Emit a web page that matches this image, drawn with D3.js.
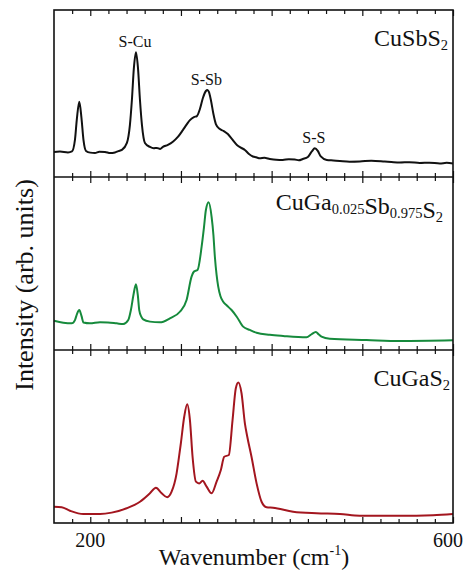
<!DOCTYPE html>
<html>
<head>
<meta charset="utf-8">
<script src="https://cdn.jsdelivr.net/npm/d3@7"></script>
<style>
  html, body { margin: 0; padding: 0; background: #fff; }
  svg { display: block; }
</style>
</head>
<body>
<svg id="chart" width="464" height="571"></svg>
<script>
// Raman spectra, one panel per composition (wavenumber in cm^-1, intensity in arb. units 0-100 per panel)
const cuSbS2Shift = [160,166.6,175.4,179.8,183.1,185.3,187.9,190.3,192.5,195.3,200,205.2,210,216.2,222,227.2,231,234.9,240.4,243.7,245.9,248.1,250.4,252.6,254.8,257.0,260.3,265.8,270,273.5,277,280.1,285.6,291.1,296.6,302.1,306.6,309.9,314.3,317.6,320.9,324.2,327.5,329.2,330.8,333.0,335.8,338.5,342.9,347.3,351.7,356.1,361.7,366,370.5,375,379.3,383,387.0,392,398.0,405,412.3,419,425.6,430,434.4,439.9,444.3,447.6,450.9,454.2,460.8,468,475.2,486,497.2,510,524.7,532,541.3,552,563.3,574,585.4,593,600];
const cuSbS2Intensity = [15.0,15.2,14.7,15.3,22.2,35.3,45.1,35.3,22.2,15.6,14.6,14.4,15.1,15.0,14.3,14.7,15.5,16.2,20.4,31.1,46.1,65.3,74.7,65.3,46.1,31.1,20.4,18.0,17.2,17.4,16.8,18.0,19.2,21.1,24.0,28.1,31.7,34.1,35.9,36.5,40.7,47.3,51.5,52.1,50.9,46.1,37.7,31.7,28.7,27.5,25.7,22.8,19.2,17.6,16.2,13.8,12.3,11.8,11.2,11.5,10.8,10.3,10.2,10.7,10.5,10.0,10.8,12.0,15.3,17.2,15.6,12.3,10.2,9.9,9.6,9.2,9.3,9.8,9.3,9.0,8.7,8.9,8.4,8.6,8.1,8.5,8.1];

const cuGaSbS2Shift = [160,170.2,179.5,183.1,185.3,187.9,190.3,192.5,199.7,210.7,219.5,229.1,236.4,241.9,244.8,247.6,250.4,252.4,254.0,256.4,258.4,265.8,276.8,287.8,298.8,306.2,311.7,314.3,318.3,322.8,325.3,327.5,330.5,333.8,335.8,337.4,339.3,341.1,343.5,346.6,350.6,355.8,361.7,368.6,376.0,383.4,398.0,412.7,438.5,444.0,448.7,452.0,455.0,464.1,504.6,541.3,600];
const cuGaSbS2Intensity = [16.9,15.8,15.4,17.3,20.8,23.1,19.7,15.9,15.4,16.0,15.9,15.4,15.0,17.3,23.1,31.8,38.0,31.8,23.1,19.1,17.7,16.4,16.0,18.3,22.1,28.9,42.4,45.3,46.2,59.7,70.5,80.9,85.4,77.0,66.5,53.9,43.4,36.6,31.2,27.9,25.7,23.1,19.1,13.5,11.6,10.0,8.8,8.1,7.3,9.1,10.4,9.0,7.7,6.5,5.8,5.2,5.6];

const cuGaS2Shift = [160,168.5,177.6,192.3,210.7,223.6,240.1,254.8,265.8,272.4,278.7,284.8,289.7,295.2,297.7,299.9,303.6,306.9,309.9,312.8,316.5,320.1,323.9,328.3,333.8,339.3,344.0,347.7,352.8,356.9,360.5,363.3,366.8,370.5,373.2,377.8,383.4,388.9,394.4,401.6,423.7,449.5,475.2,497.2,541.3,578.0,600];
const cuGaS2Intensity = [9.4,9.1,7.1,5.2,5.2,6.0,8.5,12.3,17.2,20.4,17.2,14.9,18.1,28.7,37.6,46.1,61.4,68.6,59.5,38.3,23.9,22.9,24.4,21.0,17.2,23.9,30.6,38.3,39.3,59.5,77.9,81.2,75.0,57.6,49.7,38.3,22.9,12.3,9.1,8.8,6.5,5.6,5.2,4.2,4.2,4.5,5.2];

// Bond assignments marked on the CuSbS2 spectrum
const peakLabels = ["S-Cu", "S-Sb", "S-S"];
const peakShifts = [250.4, 329.2, 447.6];
const peakIntensities = [74.7, 52.1, 17.2];

// Axis ticks
const majorTicks = [200, 300, 400, 500, 600];
const minorTicks = [180, 220, 240, 260, 280, 320, 340, 360, 380, 420, 440, 460, 480, 520, 540, 560, 580];
const labeledTicks = [200, 600];

// Pick the first installed Times-like face
function pickSerif() {
  const candidates = ["Liberation Serif", "Times New Roman", "Tinos", "DejaVu Serif", "Noto Serif", "FreeSerif"];
  const ctx = document.createElement("canvas").getContext("2d");
  const sample = "Wavenumber Intensity 0123456789";
  const widthWith = f => { ctx.font = f; return ctx.measureText(sample).width; };
  for (const c of candidates) {
    const a = widthWith(`40px "${c}", monospace`), b = widthWith("40px monospace");
    const a2 = widthWith(`40px "${c}", sans-serif`), b2 = widthWith("40px sans-serif");
    if (a !== b || a2 !== b2) return `"${c}", serif`;
  }
  return "serif";
}
const serifFont = pickSerif();

const panels = [
  { shift: cuSbS2Shift, intensity: cuSbS2Intensity, color: "#111111",
    name: [["CuSbS", false], ["2", true]] },
  { shift: cuGaSbS2Shift, intensity: cuGaSbS2Intensity, color: "#168a3c",
    name: [["CuGa", false], ["0.025", true], ["Sb", false], ["0.975", true], ["S", false], ["2", true]] },
  { shift: cuGaS2Shift, intensity: cuGaS2Intensity, color: "#a3161f",
    name: [["CuGaS", false], ["2", true]] }
];

const width = 464, height = 571;
const plotLeft = 54, plotRight = 453;
const panelEdges = [10, 177, 350, 523];

const svg = d3.select("#chart").attr("font-family", serifFont);
const x = d3.scaleLinear().domain([160, 600]).range([plotLeft, plotRight]);

const nameX = [448, 443, 450];
const nameY = [46, 210, 386];

panels.forEach((p, i) => {
  const top = panelEdges[i], bottom = panelEdges[i + 1];
  const y = d3.scaleLinear().domain([0, 100]).range([bottom, top]);
  const g = svg.append("g");

  const pts = p.shift.map((s, k) => [s, p.intensity[k]]);
  const line = d3.line().x(d => x(d[0])).y(d => y(d[1])).curve(d3.curveMonotoneX);
  g.append("path").datum(pts)
    .attr("d", line)
    .attr("fill", "none")
    .attr("stroke", p.color)
    .attr("stroke-width", 2)
    .attr("stroke-linejoin", "round");

  // inward ticks on top and bottom edges
  const mk = (axisFn, pos, ticks, size) => {
    const a = g.append("g").attr("transform", `translate(0,${pos})`)
      .call(axisFn(x).tickValues(ticks).tickSize(size).tickFormat(""));
    a.select(".domain").remove();
    a.selectAll("line").attr("stroke", "#111").attr("stroke-width", 1.2);
  };
  mk(d3.axisBottom, bottom, majorTicks, -6);
  mk(d3.axisBottom, bottom, minorTicks, -4);
  mk(d3.axisTop, top, majorTicks, -6);
  mk(d3.axisTop, top, minorTicks, -4);

  // sample name, right aligned
  const t = g.append("text")
    .attr("x", nameX[i]).attr("y", nameY[i])
    .attr("text-anchor", "end")
    .attr("font-family", serifFont)
    .attr("fill", "#111")
    .attr("font-size", 24);
  p.name.forEach(([str, sub]) => {
    t.append("tspan")
      .attr("font-size", sub ? 14.5 : 24)
      .attr("dy", sub ? 4 : null)
      .text(str);
    if (sub) {
      // return to the main baseline after a subscript
      t.append("tspan").attr("dy", -4).attr("font-size", 24).text("");
    }
  });

  if (i === 0) {
    g.selectAll("text.peak").data(peakLabels).enter().append("text")
      .attr("class", "peak")
      .attr("x", (d, k) => x(peakShifts[k]) - 1)
      .attr("y", (d, k) => y(peakIntensities[k]) - 5)
      .attr("text-anchor", "middle")
      .attr("font-family", serifFont)
      .attr("fill", "#111")
      .attr("font-size", 16)
      .text(d => d);
  }
});

// panel frames
svg.append("rect")
  .attr("x", plotLeft).attr("y", panelEdges[0])
  .attr("width", plotRight - plotLeft).attr("height", panelEdges[3] - panelEdges[0])
  .attr("fill", "none").attr("stroke", "#111").attr("stroke-width", 1.6);
[panelEdges[1], panelEdges[2]].forEach(e => {
  svg.append("line").attr("x1", plotLeft).attr("x2", plotRight)
    .attr("y1", e).attr("y2", e)
    .attr("stroke", "#111").attr("stroke-width", 1.6);
});

// tick labels on the bottom axis
svg.selectAll("text.tick-label").data(labeledTicks).enter().append("text")
  .attr("class", "tick-label")
  .attr("y", 547)
  .attr("text-anchor", "middle")
  .attr("font-family", serifFont)
  .attr("fill", "#111")
  .attr("font-size", 20)
  .text(d => d)
  .attr("x", function (d) {
    const half = this.getComputedTextLength() / 2;
    return Math.min(x(d), width - 1 - half);
  });

// axis titles
const xt = svg.append("text")
  .attr("x", 254).attr("y", 565)
  .attr("text-anchor", "middle")
  .attr("font-family", serifFont)
  .attr("fill", "#111")
  .attr("font-size", 24);
xt.append("tspan").text("Wavenumber (cm");
xt.append("tspan").attr("font-size", 14).attr("dy", -10).text("-1");
xt.append("tspan").attr("dy", 10).text(")");

svg.append("text")
  .attr("transform", "translate(33,285) rotate(-90)")
  .attr("text-anchor", "middle")
  .attr("font-family", serifFont)
  .attr("fill", "#111")
  .attr("font-size", 26)
  .text("Intensity (arb. units)");
</script>
</body>
</html>
